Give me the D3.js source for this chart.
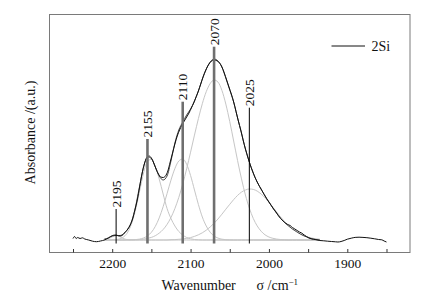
<!DOCTYPE html>
<html>
<head>
<meta charset="utf-8">
<script src="https://cdn.jsdelivr.net/npm/d3@7"></script>
<style>
  body { margin: 0; background: #fff; }
</style>
</head>
<body>
<div id="chart"></div>
<script>
const width = 431;
const height = 300;
const marginTop = 14.5;
const marginRight = 21;
const marginBottom = 47.5;
const marginLeft = 49.5;
const serif = "Liberation Serif, Times New Roman, serif";

// measured spectrum (2Si)
const wavenumber = [2250, 2248, 2246, 2244, 2241, 2238, 2235, 2230, 2225, 2220, 2215, 2210, 2205, 2202, 2198, 2195, 2192, 2189, 2186, 2183, 2180, 2177, 2174, 2171, 2168, 2165, 2162, 2159, 2156, 2153, 2150, 2147, 2144, 2141, 2138, 2135, 2132, 2129, 2126, 2123, 2120, 2117, 2114, 2111, 2108, 2105, 2102, 2099, 2096, 2093, 2090, 2087, 2084, 2081, 2078, 2075, 2072, 2069, 2066, 2063, 2060, 2057, 2054, 2051, 2048, 2045, 2042, 2039, 2036, 2033, 2030, 2027, 2024, 2021, 2018, 2015, 2012, 2009, 2006, 2003, 2000, 1997, 1994, 1991, 1988, 1985, 1982, 1979, 1976, 1973, 1970, 1967, 1964, 1961, 1958, 1955, 1952, 1949, 1946, 1943, 1940, 1935, 1930, 1925, 1920, 1915, 1912, 1908, 1904, 1900, 1895, 1890, 1885, 1880, 1875, 1870, 1865, 1860, 1856, 1853, 1850];
const absorbance = [0.015, 0.035, 0.015, 0.025, 0.015, 0.022, 0.010, 0.000, -0.012, -0.017, -0.010, 0.000, 0.020, 0.035, 0.048, 0.050, 0.042, 0.040, 0.055, 0.083, 0.110, 0.150, 0.210, 0.300, 0.400, 0.530, 0.660, 0.760, 0.820, 0.840, 0.820, 0.770, 0.710, 0.660, 0.630, 0.625, 0.640, 0.690, 0.780, 0.870, 0.960, 1.040, 1.100, 1.150, 1.190, 1.230, 1.270, 1.320, 1.370, 1.430, 1.490, 1.560, 1.630, 1.690, 1.740, 1.775, 1.795, 1.800, 1.790, 1.770, 1.730, 1.670, 1.600, 1.530, 1.460, 1.380, 1.285, 1.190, 1.100, 1.000, 0.910, 0.830, 0.755, 0.690, 0.630, 0.580, 0.535, 0.495, 0.455, 0.415, 0.380, 0.345, 0.310, 0.280, 0.245, 0.215, 0.190, 0.170, 0.155, 0.145, 0.125, 0.110, 0.095, 0.080, 0.068, 0.050, 0.035, 0.020, 0.012, 0.007, 0.003, -0.005, -0.008, -0.012, -0.015, -0.018, -0.020, -0.015, -0.005, 0.008, 0.018, 0.026, 0.028, 0.026, 0.023, 0.018, 0.012, 0.005, 0.002, -0.010, -0.020];

// fitted envelope and deconvoluted bands, on a common grid
const fitWave = [2210, 2205, 2200, 2195, 2190, 2185, 2180, 2175, 2170, 2165, 2160, 2155, 2150, 2145, 2140, 2135, 2130, 2125, 2120, 2115, 2110, 2105, 2100, 2095, 2090, 2085, 2080, 2075, 2070, 2065, 2060, 2055, 2050, 2045, 2040, 2035, 2030, 2025, 2020, 2015, 2010, 2005, 2000, 1995, 1990, 1985, 1980, 1975, 1970, 1965, 1960, 1955, 1950, 1945, 1940, 1935];
const fitSum = [0.010, 0.020, 0.040, 0.045, 0.045, 0.065, 0.110, 0.190, 0.340, 0.540, 0.730, 0.830, 0.815, 0.730, 0.640, 0.600, 0.640, 0.790, 0.970, 1.100, 1.180, 1.250, 1.310, 1.390, 1.490, 1.610, 1.710, 1.780, 1.810, 1.790, 1.730, 1.620, 1.500, 1.380, 1.220, 1.070, 0.910, 0.780, 0.670, 0.580, 0.510, 0.440, 0.380, 0.320, 0.265, 0.215, 0.175, 0.140, 0.110, 0.085, 0.060, 0.040, 0.025, 0.012, 0.005, 0.000];
const band2195 = [0.003, 0.012, 0.032, 0.045, 0.032, 0.012, 0.003, 0, 0, 0, 0, 0, 0, 0, 0, 0, 0, 0, 0, 0, 0, 0, 0, 0, 0, 0, 0, 0, 0, 0, 0, 0, 0, 0, 0, 0, 0, 0, 0, 0, 0, 0, 0, 0, 0, 0, 0, 0, 0, 0, 0, 0, 0, 0, 0, 0];
const band2155 = [0, 0, 0.001, 0.004, 0.012, 0.033, 0.080, 0.170, 0.310, 0.490, 0.670, 0.790, 0.805, 0.735, 0.610, 0.460, 0.315, 0.215, 0.140, 0.085, 0.050, 0.025, 0.012, 0.005, 0.002, 0, 0, 0, 0, 0, 0, 0, 0, 0, 0, 0, 0, 0, 0, 0, 0, 0, 0, 0, 0, 0, 0, 0, 0, 0, 0, 0, 0, 0, 0, 0];
const band2110 = [0, 0, 0, 0, 0, 0, 0.001, 0.002, 0.004, 0.009, 0.020, 0.041, 0.077, 0.136, 0.221, 0.333, 0.464, 0.599, 0.715, 0.790, 0.810, 0.757, 0.645, 0.500, 0.355, 0.230, 0.140, 0.078, 0.040, 0.019, 0.008, 0.003, 0.001, 0, 0, 0, 0, 0, 0, 0, 0, 0, 0, 0, 0, 0, 0, 0, 0, 0, 0, 0, 0, 0, 0, 0];
const band2070 = [0, 0, 0, 0, 0, 0, 0.001, 0.002, 0.003, 0.005, 0.009, 0.016, 0.026, 0.043, 0.069, 0.105, 0.156, 0.225, 0.315, 0.426, 0.560, 0.712, 0.878, 1.049, 1.214, 1.363, 1.483, 1.564, 1.600, 1.579, 1.496, 1.359, 1.184, 0.990, 0.794, 0.611, 0.450, 0.319, 0.216, 0.141, 0.088, 0.052, 0.030, 0.017, 0.009, 0.0045, 0.002, 0, 0, 0, 0, 0, 0, 0, 0, 0];
const band2025 = [0, 0, 0, 0, 0, 0, 0, 0, 0, 0, 0, 0, 0, 0, 0, 0, 0, 0.003, 0.004, 0.007, 0.010, 0.016, 0.024, 0.036, 0.052, 0.072, 0.098, 0.130, 0.168, 0.210, 0.258, 0.308, 0.357, 0.404, 0.446, 0.479, 0.500, 0.510, 0.506, 0.489, 0.460, 0.422, 0.377, 0.328, 0.278, 0.229, 0.184, 0.144, 0.110, 0.082, 0.059, 0.042, 0.029, 0.019, 0.012, 0.008];

// peak markers
const markerWave = [2195, 2155, 2110, 2070, 2025];
const markerTop = [0.31, 1.01, 1.383, 1.933, 1.323];
const markerBottom = -0.035;

const xTicks = [2250, 2200, 2150, 2100, 2050, 2000, 1950, 1900, 1850];
const xLabelled = [2200, 2100, 2000, 1900];

const svg = d3.select("#chart")
    .append("svg")
    .attr("width", width)
    .attr("height", height)
    .attr("viewBox", [0, 0, width, height])
    .attr("font-family", serif)
    .style("display", "block");

const x = d3.scaleLinear()
    .domain([2280, 1820])
    .range([marginLeft, width - marginRight]);

const y = d3.scaleLinear()
    .domain([-0.125, 2.255])
    .range([height - marginBottom, marginTop]);

// bands (light grey)
const bandLine = d3.line()
    .x((d, i) => x(fitWave[i]))
    .y(d => y(d))
    .curve(d3.curveMonotoneX);

const bands = [band2195, band2155, band2110, band2070, band2025];
svg.append("g")
    .attr("fill", "none")
    .attr("stroke", "#c6c6c6")
    .attr("stroke-width", 1)
    .selectAll("path")
    .data(bands)
    .join("path")
    .attr("d", bandLine);

// fitted envelope
svg.append("path")
    .datum(fitSum)
    .attr("fill", "none")
    .attr("stroke", "#4a4a4a")
    .attr("stroke-width", 1)
    .attr("d", bandLine);

// measured curve
const dataLine = d3.line()
    .x((d, i) => x(wavenumber[i]))
    .y(d => y(d))
    .curve(d3.curveMonotoneX);

svg.append("path")
    .datum(absorbance)
    .attr("fill", "none")
    .attr("stroke", "#111")
    .attr("stroke-width", 1)
    .attr("d", dataLine);

// marker lines
const thinMarkers = new Set([2195, 2025]);
const markers = markerWave.map((w, i) => ({ w, top: markerTop[i] }));

svg.append("g")
    .selectAll("line")
    .data(markers)
    .join("line")
    .attr("x1", d => x(d.w))
    .attr("x2", d => x(d.w))
    .attr("y1", d => y(d.top))
    .attr("y2", y(markerBottom))
    .attr("stroke", d => thinMarkers.has(d.w) ? "#000" : "#6f6f6f")
    .attr("stroke-width", d => thinMarkers.has(d.w) ? 1 : 2.6);

svg.append("g")
    .attr("font-size", 13.5)
    .attr("fill", "#111")
    .selectAll("text")
    .data(markers)
    .join("text")
    .attr("transform", d => `translate(${x(d.w)},${y(d.top) - 1.5}) rotate(-90)`)
    .attr("dy", "0.35em")
    .attr("text-anchor", "start")
    .text(d => d.w);

// frame
svg.append("rect")
    .attr("x", marginLeft)
    .attr("y", marginTop)
    .attr("width", width - marginLeft - marginRight)
    .attr("height", height - marginTop - marginBottom)
    .attr("fill", "none")
    .attr("stroke", "#7a7a7a")
    .attr("stroke-width", 1);

// x axis, ticks pointing inward
svg.append("g")
    .attr("transform", `translate(0,${height - marginBottom})`)
    .call(d3.axisBottom(x)
        .tickValues(xTicks)
        .tickSize(-3.5)
        .tickPadding(5.6)
        .tickFormat(d => xLabelled.includes(d) ? d : ""))
    .attr("font-family", serif)
    .attr("font-size", 13.5)
    .call(g => g.select(".domain").remove())
    .call(g => g.selectAll(".tick line").attr("stroke", "#333"))
    .call(g => g.selectAll(".tick text").attr("fill", "#111"));

// axis titles
svg.append("text")
    .attr("x", 161.5)
    .attr("y", 289.5)
    .attr("font-size", 14)
    .attr("fill", "#111")
    .text("Wavenumber");

const unit = svg.append("text")
    .attr("x", 256.5)
    .attr("y", 289.5)
    .attr("font-size", 14)
    .attr("fill", "#111");
unit.append("tspan").text("σ /cm");
unit.append("tspan")
    .attr("font-size", 9)
    .attr("dy", -5)
    .text("−1");

svg.append("text")
    .attr("transform", "translate(35,132.5) rotate(-90)")
    .attr("text-anchor", "middle")
    .attr("font-size", 14)
    .attr("fill", "#111")
    .text("Absorbance /(a.u.)");

// legend
svg.append("line")
    .attr("x1", 331.5)
    .attr("x2", 365)
    .attr("y1", 46)
    .attr("y2", 46)
    .attr("stroke", "#111")
    .attr("stroke-width", 1);

svg.append("text")
    .attr("x", 371.5)
    .attr("y", 50.5)
    .attr("font-size", 14)
    .attr("fill", "#111")
    .text("2Si");
</script>
</body>
</html>
